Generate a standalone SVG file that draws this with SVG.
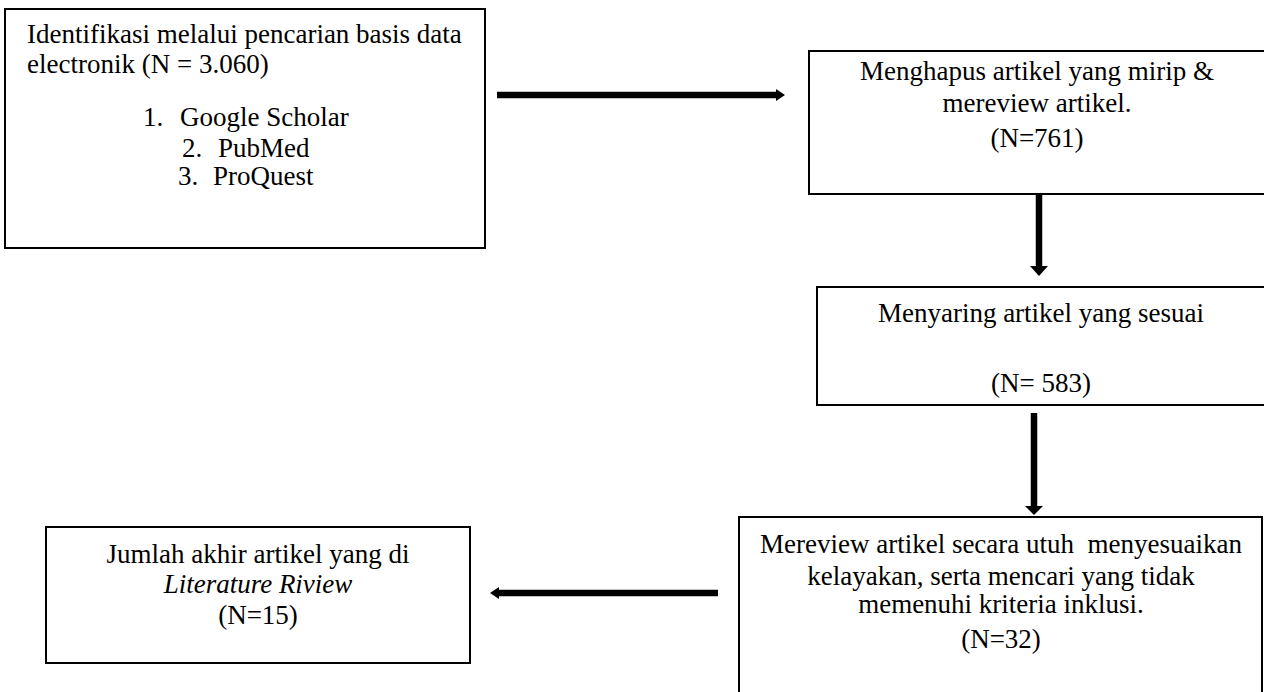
<svg xmlns="http://www.w3.org/2000/svg" width="1264" height="692" viewBox="0 0 1264 692">
<style>
.box{fill:#fff;stroke:#000;stroke-width:2}
.t{font-family:"Liberation Serif","Times New Roman",serif;font-size:27px;fill:#000}
.c{text-anchor:middle}
.conn line{stroke:#000;stroke-width:6.5}
.conn polygon{fill:#000}
</style>
<rect width="1264" height="692" fill="#fff"/>
<g id="n1">
<rect class="box" x="5" y="9" width="480" height="239"/>
<text class="t" x="27" y="43">Identifikasi melalui pencarian basis data</text>
<text class="t" x="27" y="73">electronik (N = 3.060)</text>
<text class="t" x="143" y="126">1.</text><text class="t" x="180" y="126">Google Scholar</text>
<text class="t" x="182" y="157">2.</text><text class="t" x="218" y="157">PubMed</text>
<text class="t" x="178" y="185">3.</text><text class="t" x="213" y="185">ProQuest</text>
</g>
<g id="n2">
<rect class="box" x="809" y="51" width="470" height="143"/>
<text class="t c" x="1037" y="80">Menghapus artikel yang mirip &amp;</text>
<text class="t c" x="1037" y="112">mereview artikel.</text>
<text class="t c" x="1037" y="147">(N=761)</text>
</g>
<g id="n3">
<rect class="box" x="817" y="287" width="462" height="118"/>
<text class="t c" x="1041" y="322">Menyaring artikel yang sesuai</text>
<text class="t c" x="1041" y="392">(N= 583)</text>
</g>
<g id="n4">
<rect class="box" x="739" y="517" width="523" height="200"/>
<text class="t c" x="1001" y="553" xml:space="preserve">Mereview artikel secara utuh  menyesuaikan</text>
<text class="t c" x="1001" y="585">kelayakan, serta mencari yang tidak</text>
<text class="t c" x="1001" y="613">memenuhi kriteria inklusi.</text>
<text class="t c" x="1001" y="648">(N=32)</text>
</g>
<g id="n5">
<rect class="box" x="46" y="527" width="424" height="136"/>
<text class="t c" x="258" y="563">Jumlah akhir artikel yang di</text>
<text class="t c" x="258" y="593" font-style="italic">Literature Riview</text>
<text class="t c" x="258" y="624">(N=15)</text>
</g>
<g id="connectors" class="conn">
<line x1="497" y1="95" x2="777" y2="95"/>
<polygon points="776,89 785,95 776,101"/>
<line x1="1039" y1="195" x2="1039" y2="267"/>
<polygon points="1030,266 1039,276 1048,266"/>
<line x1="1034" y1="413" x2="1034" y2="507"/>
<polygon points="1025,506 1034,515 1043,506"/>
<line x1="718" y1="593" x2="498" y2="593"/>
<polygon points="499,587 490,593 499,599"/>
</g>
</svg>
